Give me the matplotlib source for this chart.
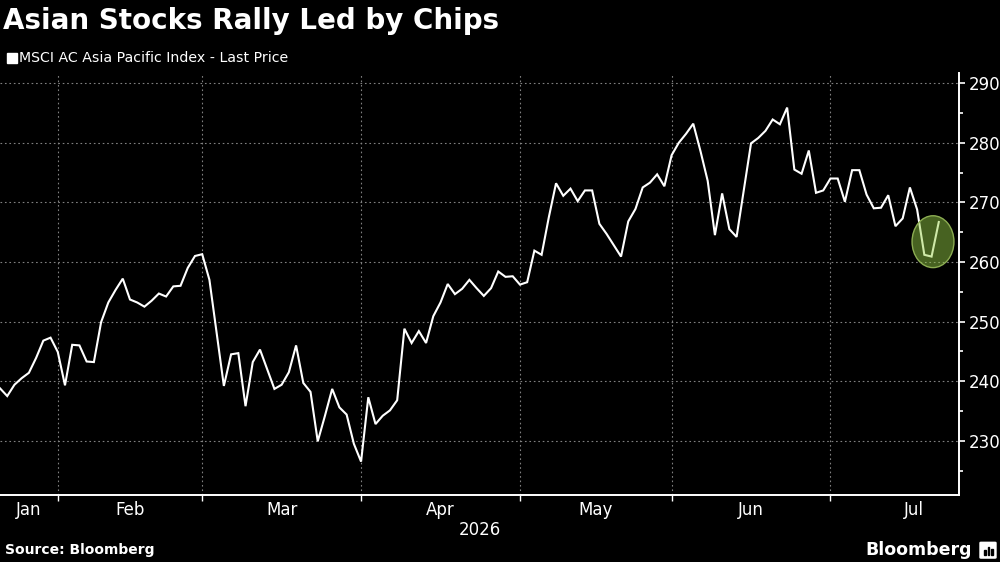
import matplotlib
matplotlib.use('Agg')
import matplotlib.pyplot as plt
from matplotlib.patches import Ellipse, Rectangle, FancyBboxPatch
from matplotlib.ticker import AutoMinorLocator
import numpy as np
import pandas as pd

title = 'Asian Stocks Rally Led by Chips'
series_name = 'MSCI AC Asia Pacific Index - Last Price'
year_label = '2026'
source = 'Source: Bloomberg'
start_date = '2026-01-21'

# daily close (one value per trading day)
prices = [
    238.8, 237.5, 239.4, 240.5, 241.4, 243.9, 246.8, 247.3, 244.9, 239.3,
    246.1, 246.0, 243.3, 243.2, 249.9, 253.2, 255.3, 257.2, 253.7, 253.2,
    252.5, 253.5, 254.7, 254.2, 255.9, 256.0, 259.0, 261.0, 261.3, 257.0,
    248.1, 239.2, 244.5, 244.7, 235.8, 243.2, 245.3, 242.0, 238.7, 239.4,
    241.5, 246.0, 239.7, 238.2, 229.9, 234.2, 238.7, 235.6, 234.4, 229.5,
    226.5, 237.3, 232.8, 234.2, 235.1, 236.8, 248.8, 246.4, 248.4, 246.4,
    250.9, 253.2, 256.3, 254.6, 255.5, 257.0, 255.6, 254.3, 255.6, 258.4,
    257.5, 257.6, 256.2, 256.6, 261.9, 261.2, 267.5, 273.2, 271.1, 272.3,
    270.2, 272.0, 272.0, 266.4, 264.7, 262.8, 260.9, 266.8, 268.9, 272.5,
    273.3, 274.7, 272.7, 277.9, 280.0, 281.5, 283.2, 278.6, 273.6, 264.5,
    271.5, 265.5, 264.2, 272.1, 279.9, 280.8, 282.0, 283.9, 283.1, 285.9,
    275.5, 274.8, 278.7, 271.6, 272.0, 274.0, 274.0, 270.1, 275.4, 275.4,
    271.3, 269.0, 269.1, 271.2, 266.0, 267.3, 272.5, 268.8, 261.2, 260.9,
    266.7,
]
y_ticks = [230, 240, 250, 260, 270, 280, 290]

# green circle around the last drop (trading-day index, price)
hl_center = (129.2, 263.4)
hl_width = 5.8
hl_height = 8.7

## trading-day axis
x = np.arange(len(prices))
all_days = pd.bdate_range(start_date, '2026-08-31')
month_start = [i for i in range(1, len(all_days))
               if all_days[i].month != all_days[i - 1].month]
bounds = [0] + month_start
month_mid = [(bounds[k] + bounds[k + 1]) / 2 for k in range(len(bounds) - 1)]
month_names = [all_days[b].strftime('%b') for b in bounds[:-1]]
grid_x = month_start[:-1]

fig = plt.figure(figsize=(10, 5.62), dpi=100, facecolor='black')
ax = fig.add_axes([0.0, 0.1192, 0.959, 0.7509])
ax.set_facecolor('black')

ax.plot(x, prices, color='white', lw=1.5, zorder=3, solid_joinstyle='miter')
ell = Ellipse(hl_center, hl_width, hl_height, facecolor=(0.60, 0.82, 0.28),
              alpha=0.47, edgecolor='none', zorder=4)
ax.add_patch(ell)
ax.add_patch(Ellipse(hl_center, hl_width, hl_height, facecolor='none',
                     edgecolor=(0.55, 0.68, 0.32), lw=1.0, zorder=4))

ax.set_xlim(0, 132.8)
ax.set_ylim(220.9, 291.7)

for s in ['left', 'top']:
    ax.spines[s].set_visible(False)
for s in ['right', 'bottom']:
    ax.spines[s].set_color('white')
    ax.spines[s].set_linewidth(1.4)

ax.yaxis.tick_right()
ax.set_yticks(y_ticks)
ax.yaxis.set_minor_locator(AutoMinorLocator(2))
ax.tick_params(axis='y', which='major', colors='white', labelsize=12,
               length=4, width=1.2, pad=3)
ax.tick_params(axis='y', which='minor', colors='white', length=3, width=1.2)

ax.set_xticks(grid_x)
ax.set_xticklabels([])
ax.set_xticks(month_mid, minor=True)
ax.set_xticklabels(month_names, minor=True)
ax.tick_params(axis='x', which='major', colors='white', length=4, width=1.0)
ax.tick_params(axis='x', which='minor', colors='white', length=0,
               labelsize=12, pad=4)
ax.set_xlabel(year_label, color='white', fontsize=12, labelpad=2)

ax.grid(True, which='major', color='#808080', ls=(0, (1.5, 2.5)), lw=0.8)

fig.text(0.003, 0.963, title, color='white', fontsize=20, weight='bold',
         va='center', ha='left')
fig.patches.append(Rectangle((0.007, 0.888), 0.010, 0.0178, color='white',
                             transform=fig.transFigure, figure=fig))
fig.text(0.019, 0.897, series_name, color='white', fontsize=10.2,
         va='center', ha='left')
fig.text(0.005, 0.021, source, color='white', fontsize=10, weight='bold',
         va='center', ha='left')
fig.text(0.972, 0.021, 'Bloomberg', color='white', fontsize=12.5,
         weight='bold', va='center', ha='right')
fig.patches.append(FancyBboxPatch((0.981, 0.008), 0.014, 0.026,
                                  boxstyle='round,pad=0.001', color='white',
                                  transform=fig.transFigure, figure=fig))
for bx, bh in [(0.984, 0.008), (0.9875, 0.014), (0.991, 0.011)]:
    fig.patches.append(Rectangle((bx, 0.013), 0.0015, bh, color='black',
                                 transform=fig.transFigure, figure=fig))

plt.savefig('out.png', dpi=100, facecolor='black')
